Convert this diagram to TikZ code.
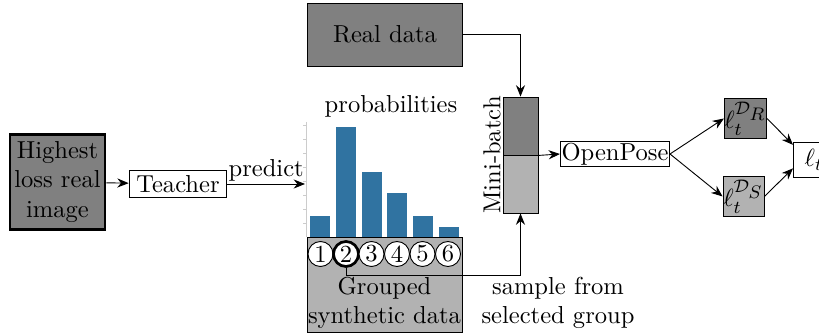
\documentclass[tikz,border=0pt]{standalone}
\usepackage{amsmath,amssymb}
\usepackage{tikz}
\usetikzlibrary{arrows.meta,positioning}
\definecolor{dkg}{gray}{0.5}
\definecolor{ltg}{gray}{0.7}
\definecolor{bar}{rgb}{0.19,0.45,0.63}
\newcommand{\lossR}{\ell_t^{\mathcal{D}_{\scriptstyle R}}}
\newcommand{\lossS}{\ell_t^{\mathcal{D}_{\scriptstyle S}}}

\begin{document}
\begin{tikzpicture}[x=0.44pt,y=-0.44pt,
  every node/.style={font=\fontsize{10.8}{13}\selectfont},
  box/.style={rectangle,draw,fill=white,align=center,inner sep=1pt},
  grp/.style={circle,draw,fill=white,inner sep=0pt,minimum size=11pt},
  arr/.style={-{Stealth[length=5pt,width=4pt]}}]
  \clip (0,0) rectangle (819,333);
  \node[box,fill=dkg,line width=1.2pt,minimum width=41.8pt,minimum height=41.8pt]
    (hl) at (57.5,182) {Highest\\loss real\\image};
  \node[box,minimum width=43pt,minimum height=11.9pt] (teach) at (178,184) {Teacher};
  \coordinate (pr) at (305,184);
  \node[box,fill=dkg,minimum width=68.6pt,minimum height=27.7pt] (real) at (385,34.5) {Real data};
  % bar chart of the group probabilities
  \draw[gray!40] (306,122) -- (306,237);
  \foreach \y in {125,139,153,167,181,195,209,223} \draw[gray!40] (303,\y) -- (306,\y);
  \fill[bar] (310,237) rectangle (330,216);
  \fill[bar] (336,237) rectangle (356,127);
  \fill[bar] (362,237) rectangle (382,172);
  \fill[bar] (387,237) rectangle (407,193);
  \fill[bar] (413,237) rectangle (433,216);
  \fill[bar] (439,237) rectangle (459,227);
  \node (prob) at (391,106) {probabilities};
  \node[box,fill=ltg,minimum width=68.2pt,minimum height=41.8pt] (grouped) at (384.5,284.5) {};
  \node[align=center,inner sep=0pt] (grplbl) at (384.5,303) {Grouped\\synthetic data};
  \node[grp] (g1) at (320.5,254) {1};
  \node[grp,line width=1.2pt] (g2) at (346,254) {2};
  \node[grp] (g3) at (371.5,254) {3};
  \node[grp] (g4) at (397,254) {4};
  \node[grp] (g5) at (422.5,254) {5};
  \node[grp] (g6) at (448,254) {6};
  % mini-batch
  \node[box,fill=dkg,minimum width=15.4pt,minimum height=25.5pt] (mbtop) at (520.5,126) {};
  \node[box,fill=ltg,minimum width=15.4pt,minimum height=25.5pt] (mbbot) at (520.5,184) {};
  \node[rotate=90] (mblbl) at (492,155) {Mini-batch};
  \coordinate (smp) at (520.5,275);
  \node[align=center] (smplbl) at (558,303) {sample from\\selected group};
  \node[box,minimum width=46.6pt,minimum height=11.4pt,inner sep=0.5pt] (pose) at (615,154) {OpenPose};
  \node[box,fill=dkg,minimum width=18pt,minimum height=18pt,inner sep=0pt] (lr) at (745.5,118.5) {$\lossR$};
  \node[box,fill=ltg,minimum width=18pt,minimum height=18pt,inner sep=0pt] (ls) at (743.5,196.5) {$\lossS$};
  \node[box,minimum width=18pt,minimum height=15.4pt,anchor=west] (lt) at (793,159.5) {$\ell_t$};
  \draw[arr] (hl) -- (teach);
  \draw[arr] (teach) -- node[above,inner sep=1pt]{predict} (pr);
  \draw[arr] (real.east) -| (mbtop.north);
  \draw[arr] (g2.south) |- (smp) -- (mbbot.south);
  \draw[arr] (mbtop.south east) -- (pose.west);
  \draw[arr] (pose.east) -- (lr.west);
  \draw[arr] (pose.east) -- (ls.west);
  \draw[arr] (lr.east) -- (lt.145);
  \draw[arr] (ls.east) -- (lt.203);
\end{tikzpicture}
\end{document}
